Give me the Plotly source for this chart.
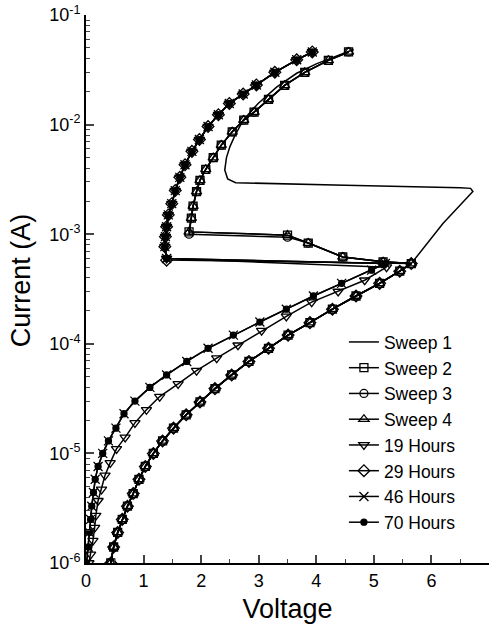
import plotly.graph_objects as go

# ---------------- data (Voltage [V], Current [A]) ----------------
# lower branch shared by Sweeps 1-4 and 29 Hours
right_lower_v = [0.43, 0.48, 0.55, 0.63, 0.72, 0.82, 0.92, 1.03, 1.17, 1.33, 1.52, 1.74,
                 1.98, 2.24, 2.53, 2.83, 3.17, 3.51, 3.89, 4.28, 4.69, 5.10, 5.45, 5.65]
right_lower_i = [1.0e-6, 1.4e-6, 1.9e-6, 2.5e-6, 3.3e-6, 4.3e-6, 5.8e-6, 7.6e-6, 1.0e-5, 1.3e-5,
                 1.7e-5, 2.25e-5, 2.95e-5, 3.9e-5, 5.2e-5, 6.9e-5, 9.1e-5, 1.2e-4, 1.56e-4,
                 2.07e-4, 2.73e-4, 3.56e-4, 4.6e-4, 5.4e-4]

# lower branch of 46 / 70 Hours
left_lower_v = [0.01, 0.04, 0.06, 0.08, 0.10, 0.13, 0.16, 0.21, 0.29, 0.39, 0.52, 0.66,
                0.85, 1.11, 1.40, 1.75, 2.12, 2.56, 3.02, 3.48, 3.95, 4.44, 4.96, 5.20]
left_lower_i = [1.0e-6, 1.4e-6, 1.9e-6, 2.5e-6, 3.3e-6, 4.4e-6, 5.8e-6, 7.6e-6, 1.0e-5, 1.3e-5,
                1.7e-5, 2.3e-5, 3.0e-5, 4.0e-5, 5.2e-5, 6.9e-5, 9.1e-5, 1.2e-4, 1.58e-4,
                2.07e-4, 2.73e-4, 3.56e-4, 4.7e-4, 5.4e-4]

# lower branch of 19 Hours
h19_lower_v = [0.05, 0.08, 0.12, 0.15, 0.17, 0.21, 0.27, 0.33, 0.42, 0.53, 0.68, 0.85,
               1.05, 1.28, 1.60, 1.92, 2.27, 2.64, 3.05, 3.48, 3.92, 4.38, 4.84, 5.22]
h19_lower_i = [1.0e-6, 1.2e-6, 1.6e-6, 2.1e-6, 2.7e-6, 3.7e-6, 4.7e-6, 6.3e-6, 8.2e-6, 1.1e-5,
               1.4e-5, 1.9e-5, 2.5e-5, 3.3e-5, 4.3e-5, 5.7e-5, 7.4e-5, 9.7e-5, 1.32e-4,
               1.78e-4, 2.4e-4, 3.0e-4, 3.8e-4, 5.0e-4]

# switching path of Sweeps 2-4 (back toward low voltage)
switch_v = [5.16, 4.46, 3.86, 3.50, 1.79]
switch_i_a = [5.6e-4, 6.2e-4, 8.3e-4, 9.8e-4, 1.05e-3]
switch_i_b = [5.6e-4, 6.2e-4, 8.3e-4, 9.4e-4, 1.0e-3]

# upper branch of Sweeps 2-4
right_upper_v = [1.83, 1.86, 1.92, 1.98, 2.08, 2.21, 2.35, 2.54, 2.74, 2.92, 3.17, 3.45,
                 3.80, 4.21, 4.56]
right_upper_i = [1.4e-3, 1.8e-3, 2.45e-3, 3.1e-3, 3.9e-3, 5.0e-3, 6.5e-3, 8.6e-3, 1.1e-2,
                 1.3e-2, 1.7e-2, 2.28e-2, 3.0e-2, 3.85e-2, 4.6e-2]

# upper branch of the aged curves (19 / 29 / 46 / 70 Hours)
left_upper_v = [1.40, 1.37, 1.38, 1.40, 1.43, 1.49, 1.55, 1.63, 1.72, 1.84, 1.97, 2.12,
                2.30, 2.49, 2.73, 2.96, 3.28, 3.66, 3.93]
left_upper_i = [6.0e-4, 7.7e-4, 9.5e-4, 1.17e-3, 1.5e-3, 1.9e-3, 2.5e-3, 3.3e-3, 4.3e-3,
                5.7e-3, 7.3e-3, 9.6e-3, 1.23e-2, 1.56e-2, 1.9e-2, 2.3e-2, 3.0e-2, 3.9e-2, 4.6e-2]

# Sweep 1 forming loop (after lower branch)
sweep1_loop_v = [6.20, 6.62, 6.72, 6.68, 6.50, 4.50, 2.60, 2.46, 2.41, 2.44, 2.50, 2.58,
                 2.73, 2.99, 3.31, 3.66, 4.01, 4.47, 4.65]
sweep1_loop_i = [1.25e-3, 2.15e-3, 2.45e-3, 2.62e-3, 2.66e-3, 2.8e-3, 2.95e-3, 3.2e-3, 3.85e-3,
                 5.0e-3, 6.3e-3, 7.8e-3, 1.1e-2, 1.56e-2, 2.2e-2, 2.94e-2, 3.6e-2, 4.47e-2, 4.85e-2]

names = ["Sweep 1", "Sweep 2", "Sweep 3", "Sweep 4", "19 Hours", "29 Hours", "46 Hours", "70 Hours"]

# ---------------- assemble series ----------------
series = {
    "Sweep 1": (right_lower_v + sweep1_loop_v, right_lower_i + sweep1_loop_i),
    "Sweep 2": (right_lower_v + switch_v + right_upper_v, right_lower_i + switch_i_a + right_upper_i),
    "Sweep 3": (right_lower_v + switch_v + right_upper_v, right_lower_i + switch_i_b + right_upper_i),
    "Sweep 4": (right_lower_v + switch_v + right_upper_v, right_lower_i + switch_i_a + right_upper_i),
    "19 Hours": (h19_lower_v + left_upper_v, h19_lower_i + left_upper_i),
    "29 Hours": (right_lower_v + left_upper_v, right_lower_i + [5.8e-4] + left_upper_i[1:]),
    "46 Hours": (left_lower_v + left_upper_v, left_lower_i + left_upper_i),
    "70 Hours": (left_lower_v + left_upper_v, left_lower_i + left_upper_i),
}

styles = {
    "Sweep 1": dict(mode="lines", marker=None),
    "Sweep 2": dict(mode="lines+markers", marker=dict(symbol="square-open", size=8)),
    "Sweep 3": dict(mode="lines+markers", marker=dict(symbol="circle-open", size=8)),
    "Sweep 4": dict(mode="lines+markers", marker=dict(symbol="triangle-up-open", size=9)),
    "19 Hours": dict(mode="lines+markers", marker=dict(symbol="triangle-down-open", size=9)),
    "29 Hours": dict(mode="lines+markers", marker=dict(symbol="diamond-open", size=9)),
    "46 Hours": dict(mode="lines+markers", marker=dict(symbol="x-thin-open", size=9)),
    "70 Hours": dict(mode="lines+markers", marker=dict(symbol="circle", size=6)),
}

fig = go.Figure()
for n in names:
    v, i = series[n]
    st = styles[n]
    kw = dict(x=v, y=i, name=n, mode=st["mode"], line=dict(color="black", width=1.5))
    if st["marker"] is not None:
        m = dict(st["marker"])
        m.update(color="black", line=dict(color="black", width=1.3))
        kw["marker"] = m
    fig.add_trace(go.Scatter(**kw))

font_family = "Liberation Sans, Arial, sans-serif"
y_tickvals = [1e-6, 1e-5, 1e-4, 1e-3, 1e-2, 1e-1]
y_ticktext = ["10<sup>-6</sup>", "10<sup>-5</sup>", "10<sup>-4</sup>",
              "10<sup>-3</sup>", "10<sup>-2</sup>", "10<sup>-1</sup>"]
y_minor = [m * 10 ** e for e in range(-6, -1) for m in range(2, 10)]
x_tickvals = [0, 1, 2, 3, 4, 5, 6, 7]
x_minor = [0.5, 1.5, 2.5, 3.5, 4.5, 5.5, 6.5]

fig.update_layout(
    width=493, height=632,
    margin=dict(l=86, r=4, t=15, b=69),
    paper_bgcolor="white", plot_bgcolor="white",
    font=dict(family=font_family, color="black", size=18),
    showlegend=True,
    legend=dict(x=0.64, y=0.436, xanchor="left", yanchor="top",
                bgcolor="rgba(0,0,0,0)", font=dict(size=17.5), tracegroupgap=0),
    xaxis=dict(range=[0, 7], showgrid=False, zeroline=False, showline=True,
               linecolor="black", linewidth=2, ticks="inside", ticklen=8, tickwidth=1.5,
               tickvals=x_tickvals, tickfont=dict(size=18),
               minor=dict(tickvals=x_minor, ticks="inside", ticklen=4, tickwidth=1.2, showgrid=False),
               title=dict(text="Voltage", font=dict(size=27), standoff=10)),
    yaxis=dict(type="log", range=[-6, -1], showgrid=False, zeroline=False, showline=True,
               linecolor="black", linewidth=2, ticks="inside", ticklen=8, tickwidth=1.5,
               tickvals=y_tickvals, ticktext=y_ticktext, tickfont=dict(size=18),
               minor=dict(tickvals=y_minor, ticks="inside", ticklen=4, tickwidth=1.2, showgrid=False)),
    annotations=[dict(text="Current (A)", textangle=-90, xref="paper", yref="paper",
                      x=-0.161, y=0.516, xanchor="center", yanchor="middle",
                      showarrow=False, font=dict(size=27))],
)

fig.write_html("out.html")
